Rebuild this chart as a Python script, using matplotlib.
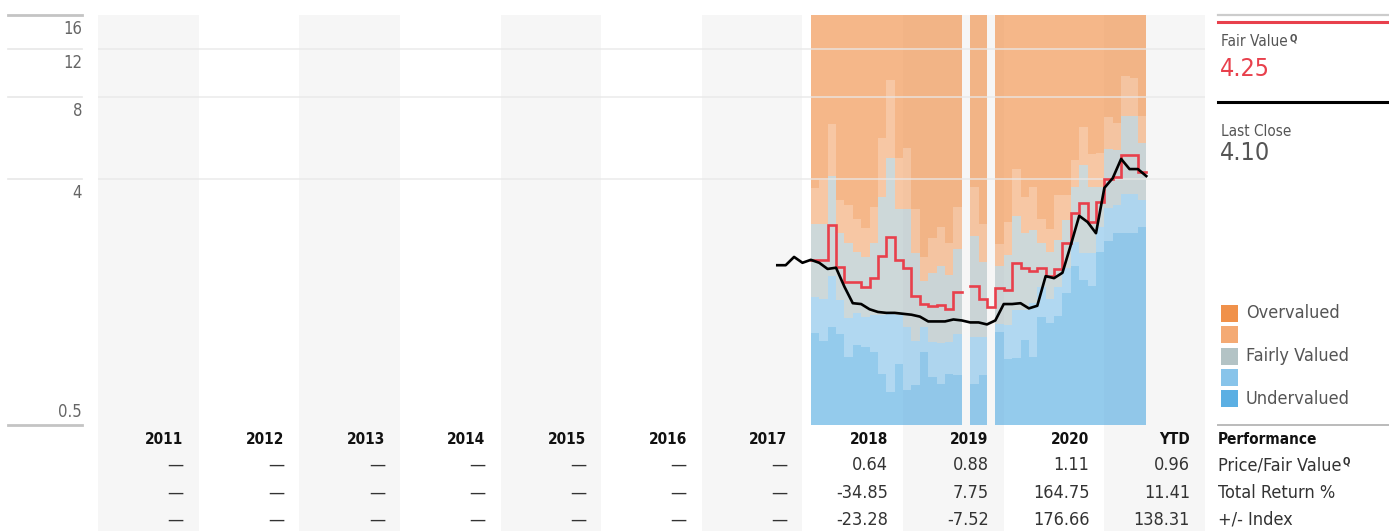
import matplotlib
matplotlib.use('Agg')
import matplotlib.pyplot as plt
import numpy as np
from matplotlib.patches import Rectangle
from matplotlib.lines import Line2D

# narrow type, like the original's condensed face
plt.rcParams['font.family'] = ['DejaVu Sans']
plt.rcParams['font.stretch'] = 'condensed'

# ---- data ----
col_labels = ['2011', '2012', '2013', '2014', '2015', '2016', '2017', '2018', '2019', '2020', 'YTD']
y_ticks = [16, 12, 8, 4, 0.5]

# monthly valuation bands, first month Feb 2018 (None = no rating that month)
band_start = (2018, 2)
under_top = [1.09, 1.02, 1.14, 1.08, 0.89, 0.98, 0.97, 0.93, 0.77, 0.66,
             0.84, 0.67, 0.70, 0.93, 0.75, 0.71, 0.77, 0.76, None, 0.71,
             0.76, None, 1.10, 0.87, 0.88, 1.03, 0.89, 1.25, 1.18, 1.26,
             1.53, 1.92, 1.70, 1.62, 2.16, 2.37, 2.53, 2.53, 2.53, 2.67]
under_lt_top = [1.48, 1.45, 1.76, 1.44, 1.24, 1.29, 1.25, 1.27, 1.27, 1.28,
                1.27, 1.14, 1.02, 1.14, 1.01, 1.00, 1.01, 1.08, None, 1.05,
                1.05, None, 1.17, 1.16, 1.32, 1.32, 1.40, 1.61, 1.45, 1.61,
                1.89, 2.35, 2.14, 2.14, 2.67, 3.13, 3.21, 3.52, 3.52, 3.35]
fair_top = [2.73, 2.73, 4.10, 2.53, 2.33, 2.16, 2.07, 2.33, 3.44, 4.78,
            3.10, 3.10, 2.14, 1.69, 1.81, 1.92, 1.78, 2.21, None, 2.47,
            1.98, None, 1.92, 2.10, 2.93, 2.53, 2.60, 2.33, 2.16, 2.39,
            2.83, 3.74, 4.50, 3.74, 3.74, 5.15, 5.11, 6.81, 6.81, 5.42]
over_lt_top = [3.71, 3.97, 6.37, 3.35, 3.21, 2.85, 2.64, 3.16, 5.66, 9.24,
               4.78, 5.20, 3.10, 2.07, 2.43, 2.67, 2.33, 3.16, None, 3.74,
               2.73, None, 2.31, 2.78, 4.35, 3.44, 3.74, 2.85, 2.62, 3.49,
               3.49, 4.70, 6.21, 4.94, 4.98, 6.76, 6.42, 9.55, 9.39, 6.81]
fair_value = [2.02, 2.02, 2.71, 1.90, 1.67, 1.67, 1.61, 1.73, 2.09, 2.45,
              2.02, 1.89, 1.49, 1.39, 1.37, 1.38, 1.33, 1.54, None, 1.62,
              1.45, 1.36, 1.59, 1.57, 1.97, 1.89, 1.84, 1.89, 1.76, 1.87,
              2.33, 3.00, 3.27, 2.78, 3.29, 4.00, 4.07, 4.90, 4.90, 4.25]

# month-end closing price, first point Oct 2017
price_start = (2017, 10)
price = [1.93, 1.93, 2.07,
         1.97, 2.02, 1.97, 1.87, 1.89, 1.61, 1.40, 1.39, 1.33, 1.30, 1.29, 1.29,
         1.28, 1.27, 1.25, 1.20, 1.20, 1.20, 1.22, 1.21, 1.19, 1.19, 1.17, 1.21,
         1.39, 1.39, 1.40, 1.34, 1.37, 1.76, 1.73, 1.81, 2.29, 2.93, 2.78, 2.53,
         3.71, 4.03, 4.74, 4.35, 4.35, 4.10]

fair_value_now = '4.25'
last_close = '4.10'

row_names = ['Price/Fair Value', 'Total Return %', '+/- Index']
price_fv = ['—'] * 7 + ['0.64', '0.88', '1.11', '0.96']
total_return = ['—'] * 7 + ['-34.85', '7.75', '164.75', '11.41']
vs_index = ['—'] * 7 + ['-23.28', '-7.52', '176.66', '138.31']

legend_labels = ['Overvalued', '', 'Fairly Valued', '', 'Undervalued']
legend_colors = ['#f0914a', '#f4aa74', '#b3c3c5', '#88c4ea', '#5bafe3']

# ---- helpers ----
W, H = 1389, 531


def month_idx(ym):
    return (ym[0] - 2011) * 12 + ym[1] - 1


def stairs(start, vals):
    v = np.array([np.nan if x is None else x for x in vals], float)
    x0 = month_idx(start) + np.arange(len(v))
    xs = np.column_stack([x0, x0 + 1]).ravel()
    return xs, np.repeat(v, 2)


def fx(px):
    return px / W


def fy(py):
    return 1 - py / H


fig = plt.figure(figsize=(W / 100, H / 100), dpi=100)
ax = fig.add_axes([fx(98), fy(425), fx(1205 - 98), (425 - 15) / H])
ax.set_yscale('log')
ax.set_xlim(0, 12 * len(col_labels))
ax.set_ylim(0.5, 16)
ax.axis('off')

# alternating column shading, continues down through the table
below = (531 - 425) / (425 - 15)
for i in range(0, len(col_labels), 2):
    ax.axvspan(12 * i, 12 * i + 12, ymin=-below, ymax=1, color='#f6f6f6',
               lw=0, zorder=0, clip_on=False)

# valuation bands
xs, b1 = stairs(band_start, under_top)
_, b2 = stairs(band_start, under_lt_top)
_, b3 = stairs(band_start, fair_top)
_, b4 = stairs(band_start, over_lt_top)
lo = np.where(np.isnan(b1), np.nan, 0.5)
hi = np.where(np.isnan(b1), np.nan, 16)
edges = [lo, b1, b2, b3, b4, hi]
band_colors = legend_colors[::-1]
for j in range(5):
    ax.fill_between(xs, edges[j], edges[j + 1], color=band_colors[j],
                    alpha=0.65, lw=0, zorder=1)

# gridlines
for v in [12, 8, 4]:
    ax.axhline(v, color='#e8e8e8', lw=1.2, alpha=0.8, zorder=3)
    ax.plot([-0.0813, -0.0145], [v, v], transform=ax.get_yaxis_transform(),
            color='#e8e8e8', lw=1.2, clip_on=False)
for v in [16, 0.5]:
    ax.plot([-0.0813, -0.0145], [v, v], transform=ax.get_yaxis_transform(),
            color='#c4c4c4', lw=2, clip_on=False)

for v in y_ticks:
    lab = '0.5' if v == 0.5 else str(v)
    off, va = ((0, 4), 'bottom') if v == 0.5 else ((0, -5), 'top')
    ax.annotate(lab, xy=(-0.0145, v), xycoords=ax.get_yaxis_transform(),
                xytext=off, textcoords='offset pixels', ha='right', va=va,
                fontsize=12, color='#666666')

# fair value and price lines
fxs, fvs = stairs(band_start, fair_value)
ax.plot(fxs, fvs, color='#e8404c', lw=1.9, zorder=5, solid_joinstyle='miter')
px = month_idx(price_start) + np.arange(len(price))
ax.plot(px, price, color='black', lw=1.9, zorder=6)

# ---- right panel ----
fig.add_artist(Line2D([fx(1218), 1], [fy(15), fy(15)], color='#cccccc', lw=1.6))
fig.add_artist(Line2D([fx(1218), 1], [fy(22), fy(22)], color='#e8404c', lw=2.2))
fig.add_artist(Line2D([fx(1218), 1], [fy(102), fy(102)], color='black', lw=2.2))
fig.add_artist(Line2D([fx(1218), 1], [fy(425), fy(425)], color='#bbbbbb', lw=1.4))

t = fig.text(fx(1221), fy(41), 'Fair Value', fontsize=11, color='#555555', va='center')
fig.text(fx(1220), fy(69), fair_value_now, fontsize=18, color='#e8404c', va='center')
fig.text(fx(1221), fy(132), 'Last Close', fontsize=11, color='#555555', va='center')
fig.text(fx(1220), fy(153), last_close, fontsize=18, color='#555555', va='center')
ax.annotate('Q', xy=(1, 1), xycoords=t, xytext=(1, 0), textcoords='offset points',
            ha='left', va='top', fontsize=7, weight='bold', color='#555555')

for i, (lab, c) in enumerate(zip(legend_labels, legend_colors)):
    yc = 313.5 + 21.3 * i
    fig.add_artist(Rectangle((fx(1221), fy(yc + 8.5)), fx(17), 17 / H, color=c, lw=0))
    if lab:
        fig.text(fx(1246), fy(yc), lab, fontsize=13, color='#555555', va='center')

# ---- table ----
col_w = (1205 - 98) / len(col_labels)
for i, lab in enumerate(col_labels):
    xr = fx(98 + (i + 1) * col_w - 15)
    fig.text(xr, fy(440), lab, fontsize=11, weight='bold', color='#111111',
             ha='right', va='center')
    for row, vals in zip([465, 493, 520], [price_fv, total_return, vs_index]):
        fig.text(xr, fy(row), vals[i], fontsize=13, color='#333333',
                 ha='right', va='center')

fig.text(fx(1218), fy(440), 'Performance', fontsize=11, weight='bold',
         color='#111111', va='center')
for row, name in zip([465, 493, 520], row_names):
    t = fig.text(fx(1218), fy(row), name, fontsize=13, color='#333333', va='center')
    if name == 'Price/Fair Value':
        ax.annotate('Q', xy=(1, 1), xycoords=t, xytext=(1, 0),
                    textcoords='offset points', ha='left', va='top',
                    fontsize=7, weight='bold', color='#333333')

fig.savefig('out.png', dpi=100)
